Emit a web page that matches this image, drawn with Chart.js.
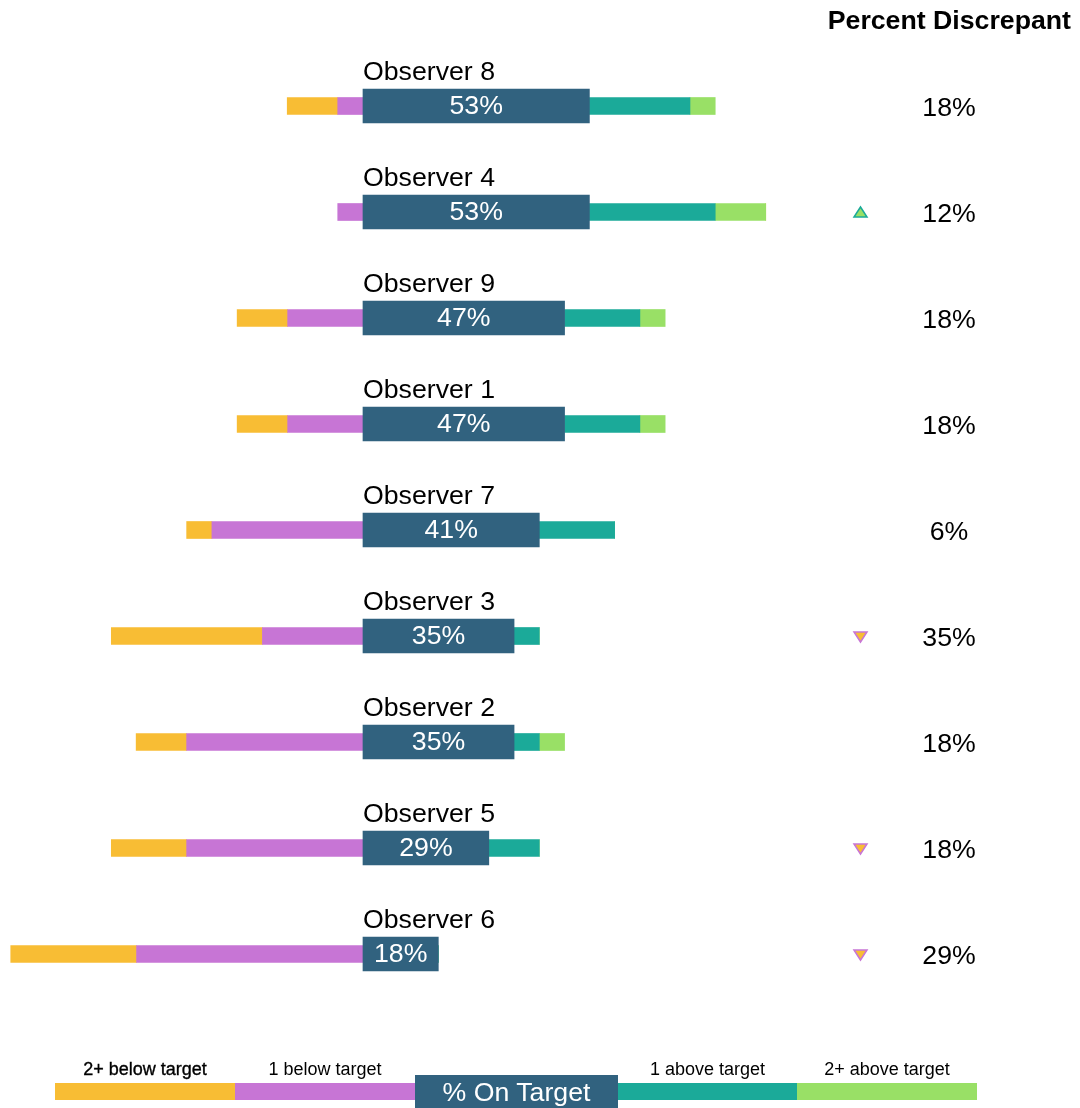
<!DOCTYPE html>
<html>
<head>
<meta charset="utf-8">
<script src="https://cdn.jsdelivr.net/npm/chart.js@4/dist/chart.umd.min.js"></script>
<style>
  html, body { margin: 0; padding: 0; background: #fff; }
  #wrap { position: relative; width: 1080px; height: 1108px; overflow: hidden; font-family: 'Liberation Sans', Arial, sans-serif; }
  #chart { position: absolute; left: 0; top: 0; }
  .lg { position: absolute; }
  .lgText { position: absolute; font-size: 18px; color: #000; text-align: center; white-space: nowrap; line-height: 18px; }
</style>
</head>
<body>
<div id="wrap">
  <canvas id="chart" width="1080" height="1108"></canvas>
  <div id="legend"></div>
</div>
<script>
// ---- data ----
const observers = ['Observer 8','Observer 4','Observer 9','Observer 1','Observer 7','Observer 3','Observer 2','Observer 5','Observer 6'];
const below2   = [11.8, 0,    11.8, 11.8, 5.9,  35.3, 11.8, 17.6, 29.4];
const below1   = [5.9,  5.9,  17.6, 17.6, 35.3, 23.5, 41.2, 41.2, 52.9];
const onTarget = [52.9, 52.9, 47.1, 47.1, 41.2, 35.3, 35.3, 29.4, 17.6];
const above1   = [23.5, 29.4, 17.6, 17.6, 17.6, 5.9,  5.9,  11.8, 0];
const above2   = [5.9,  11.8, 5.9,  5.9,  0,    0,    5.9,  0,    0];
const discrepant = [18, 12, 18, 18, 6, 35, 18, 18, 29];
const trend = ['', 'up', '', '', '', 'down', '', 'down', 'down'];
const legendLabels = ['2+ below target', '1 below target', '% On Target', '1 above target', '2+ above target'];

// ---- styles ----
const C = { below2: '#f8bd34', below1: '#c775d5', on: '#31627f', above1: '#1baa99', above2: '#99e066' };
const FONT = "'Liberation Sans', Arial, sans-serif";
Chart.defaults.font.family = FONT;

const neg = a => a.map(v => -v);

const annot = {
  id: 'annot',
  afterDatasetsDraw(chart) {
    const ctx = chart.ctx;
    const xs = chart.scales.x, ys = chart.scales.y;
    const x0 = xs.getPixelForValue(0);
    const onMeta = chart.getDatasetMeta(0);
    ctx.save();
    observers.forEach((name, i) => {
      const y = ys.getPixelForValue(i);
      ctx.fillStyle = '#000';
      ctx.font = '26.7px ' + FONT;
      ctx.textAlign = 'left';
      ctx.textBaseline = 'alphabetic';
      ctx.fillText(name, x0, y - 26.5);
      // on-target value
      const el = onMeta.data[i];
      ctx.fillStyle = '#ffffff';
      ctx.textAlign = 'center';
      ctx.fillText(Math.round(onTarget[i]) + '%', (el.base + el.x) / 2, y + 8);
      // discrepant
      ctx.fillStyle = '#000';
      ctx.fillText(discrepant[i] + '%', 949, y + 10);
      // trend marker
      if (trend[i]) {
        const cx = 860.5, w = 6.5, h = 5;
        ctx.beginPath();
        if (trend[i] === 'up') {
          ctx.moveTo(cx - w, y + h); ctx.lineTo(cx + w, y + h); ctx.lineTo(cx, y - h);
          ctx.fillStyle = C.above2; ctx.strokeStyle = C.above1;
        } else {
          ctx.moveTo(cx - w, y - h + 1); ctx.lineTo(cx + w, y - h + 1); ctx.lineTo(cx, y + h + 1);
          ctx.fillStyle = C.below2; ctx.strokeStyle = C.below1;
        }
        ctx.closePath();
        ctx.lineWidth = 1.5;
        ctx.fill(); ctx.stroke();
      }
    });
    ctx.fillStyle = '#000';
    ctx.font = 'bold 26.7px ' + FONT;
    ctx.textAlign = 'right';
    ctx.textBaseline = 'alphabetic';
    ctx.fillText('Percent Discrepant', 1071, 29);
    ctx.restore();
  }
};

const thin = 17, thick = 34;
new Chart(document.getElementById('chart'), {
  type: 'bar',
  data: {
    labels: observers,
    datasets: [
      { label: legendLabels[2], data: onTarget, backgroundColor: C.on, barThickness: thick },
      { label: legendLabels[3], data: above1, backgroundColor: C.above1, barThickness: thin },
      { label: legendLabels[4], data: above2, backgroundColor: C.above2, barThickness: thin },
      { label: legendLabels[1], data: neg(below1), backgroundColor: C.below1, barThickness: thin },
      { label: legendLabels[0], data: neg(below2), backgroundColor: C.below2, barThickness: thin }
    ]
  },
  options: {
    indexAxis: 'y',
    responsive: false,
    animation: false,
    layout: { padding: { left: 0, right: 260, top: 53, bottom: 101 } },
    datasets: { bar: { borderWidth: 0 } },
    scales: {
      x: { stacked: true, display: false, min: -84.81, max: 106.78 },
      y: { stacked: true, display: false, offset: true }
    },
    plugins: { legend: { display: false }, tooltip: { enabled: false }, title: { display: false } }
  },
  plugins: [annot]
});

// ---- legend (HTML) ----
(function () {
  const lg = document.getElementById('legend');
  const segs = [
    { l: 55,  w: 180, c: C.below2, t: legendLabels[0], thick: false, bold: true },
    { l: 235, w: 180, c: C.below1, t: legendLabels[1], thick: false },
    { l: 415, w: 203, c: C.on,     t: legendLabels[2], thick: true },
    { l: 618, w: 179, c: C.above1, t: legendLabels[3], thick: false },
    { l: 797, w: 180, c: C.above2, t: legendLabels[4], thick: false }
  ];
  segs.forEach(s => {
    const b = document.createElement('div');
    b.className = 'lg';
    b.style.left = s.l + 'px';
    b.style.width = s.w + 'px';
    b.style.background = s.c;
    if (s.thick) {
      b.style.top = '1075px'; b.style.height = '34px';
      const t = document.createElement('div');
      t.textContent = s.t;
      t.style.cssText = 'position:absolute;left:0;width:100%;top:0;height:34px;line-height:34px;text-align:center;color:#fff;font-size:26.7px;white-space:nowrap;';
      b.appendChild(t);
    } else {
      b.style.top = '1083px'; b.style.height = '17px';
      const t = document.createElement('div');
      t.className = 'lgText';
      t.textContent = s.t;
      t.style.left = s.l + 'px';
      t.style.width = s.w + 'px';
      t.style.top = '1060px';
      if (s.bold) t.style.webkitTextStroke = '0.35px #000';
      lg.appendChild(t);
    }
    lg.appendChild(b);
  });
})();
</script>
</body>
</html>
